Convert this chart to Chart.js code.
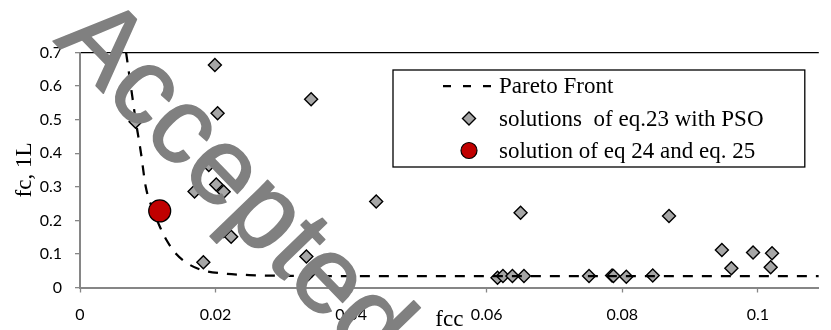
<!DOCTYPE html>
<html>
<head>
<meta charset="utf-8">
<script src="https://cdn.jsdelivr.net/npm/chart.js@4.4.1/dist/chart.umd.min.js"></script>
<style>
  html, body { margin: 0; padding: 0; background: #fff; overflow: hidden; }
  canvas { display: block; }
</style>
</head>
<body>
<canvas id="chart" width="831" height="330"></canvas>
<script>
// Pareto front (fcc, fc,1L)
const paretoX = [0.0068, 0.0075, 0.0082, 0.0090, 0.0097, 0.0108, 0.0118, 0.0128, 0.0142, 0.0160, 0.0180, 0.0210, 0.0250, 0.0300, 0.0400, 0.0600, 0.0800, 0.1090];
const paretoY = [0.700, 0.600, 0.500, 0.400, 0.300, 0.230, 0.180, 0.140, 0.100, 0.070, 0.052, 0.042, 0.037, 0.035, 0.034, 0.034, 0.034, 0.034];

// PSO solutions of eq. 23
const psoX = [0.0082, 0.0190, 0.0199, 0.0203, 0.0169, 0.0201, 0.0212, 0.0212, 0.0223, 0.0182, 0.0334, 0.0337, 0.0341, 0.0437,
              0.0650, 0.0616, 0.0624, 0.0638, 0.0655, 0.0751, 0.0785, 0.0787, 0.0806, 0.0845, 0.0869, 0.0947, 0.0961, 0.0993, 0.1021, 0.1019];
const psoY = [0.494, 0.365, 0.663, 0.519, 0.286, 0.307, 0.285, 0.168, 0.151, 0.075, 0.092, 0.040, 0.561, 0.256,
              0.223, 0.029, 0.034, 0.034, 0.034, 0.034, 0.036, 0.034, 0.032, 0.036, 0.213, 0.112, 0.057, 0.104, 0.102, 0.060];

// solution of eq. 24 and eq. 25
const eqX = [0.01176];
const eqY = [0.228];

const xTicks = [0, 0.02, 0.04, 0.06, 0.08, 0.1];
const yTicks = [0, 0.1, 0.2, 0.3, 0.4, 0.5, 0.6, 0.7];

const seriesNames = ['Pareto Front', 'solutions  of eq.23 with PSO', 'solution of eq 24 and eq. 25'];
const xTitle = 'fcc';
const yTitle = 'fc, 1L';
const stampText = 'Accepted';

const toPoints = (xs, ys) => xs.map((x, i) => ({ x, y: ys[i] }));

const AXIS_GREY = '#868686';
const SERIF = '"Liberation Serif", "Times New Roman", serif';

// legend in a framed box inside the plot area
const boxLegend = {
  id: 'boxLegend',
  afterDatasetsDraw(chart) {
    const { ctx, chartArea } = chart;
    const L = chartArea.left + 313, T = chartArea.top + 17.5;
    const R = chartArea.right - 14, B = T + 97;
    ctx.save();
    ctx.fillStyle = '#fff';
    ctx.fillRect(L, T, R - L, B - T);
    ctx.strokeStyle = '#000';
    ctx.lineWidth = 1.3;
    ctx.strokeRect(L, T, R - L, B - T);

    const symX = L + 76, textX = L + 106;
    const rows = [T + 16, T + 48.5, T + 80.5];
    const ds = chart.data.datasets;

    // dashed line sample
    ctx.strokeStyle = ds[0].borderColor;
    ctx.lineWidth = ds[0].borderWidth;
    ctx.setLineDash([8, 12]);
    ctx.beginPath();
    ctx.moveTo(symX - 26, rows[0]);
    ctx.lineTo(symX + 22, rows[0]);
    ctx.stroke();
    ctx.setLineDash([]);

    // diamond sample
    const r = 6.5;
    ctx.fillStyle = ds[1].backgroundColor;
    ctx.strokeStyle = ds[1].borderColor;
    ctx.lineWidth = ds[1].borderWidth;
    ctx.beginPath();
    ctx.moveTo(symX - r, rows[1]);
    ctx.lineTo(symX, rows[1] - r);
    ctx.lineTo(symX + r, rows[1]);
    ctx.lineTo(symX, rows[1] + r);
    ctx.closePath();
    ctx.fill();
    ctx.stroke();

    // circle sample
    ctx.fillStyle = ds[2].backgroundColor;
    ctx.strokeStyle = ds[2].borderColor;
    ctx.lineWidth = ds[2].borderWidth;
    ctx.beginPath();
    ctx.arc(symX, rows[2], 8, 0, Math.PI * 2);
    ctx.fill();
    ctx.stroke();

    ctx.fillStyle = '#000';
    ctx.font = '23px ' + SERIF;
    ctx.textAlign = 'left';
    ctx.textBaseline = 'middle';
    ds.forEach((d, i) => ctx.fillText(d.label, textX, rows[i] + 1));
    ctx.restore();
  }
};

// diagonal stamp across the chart
const stamp = {
  id: 'stamp',
  afterDraw(chart) {
    const { ctx } = chart;
    ctx.save();
    ctx.translate(53, 41);
    ctx.rotate(46 * Math.PI / 180);
    ctx.font = '109px "Liberation Sans", Arial, sans-serif';
    ctx.fillStyle = '#808080';
    ctx.strokeStyle = '#808080';
    ctx.lineWidth = 1.6;
    ctx.lineJoin = 'round';
    ctx.textAlign = 'left';
    ctx.textBaseline = 'alphabetic';
    ctx.fillText(stampText, 0, 0);
    ctx.strokeText(stampText, 0, 0);
    ctx.restore();
  }
};

new Chart(document.getElementById('chart'), {
  type: 'scatter',
  data: {
    datasets: [
      {
        label: seriesNames[0],
        type: 'line',
        data: toPoints(paretoX, paretoY),
        borderColor: '#000',
        borderWidth: 2.25,
        borderDash: [10, 9],
        pointRadius: 0,
        fill: false,
        cubicInterpolationMode: 'monotone',
        order: 1
      },
      {
        label: seriesNames[1],
        data: toPoints(psoX, psoY),
        pointStyle: 'rectRot',
        pointRadius: 6.5,
        backgroundColor: '#a6a6a6',
        borderColor: '#000',
        borderWidth: 1.4,
        order: 2
      },
      {
        label: seriesNames[2],
        data: toPoints(eqX, eqY),
        pointStyle: 'circle',
        pointRadius: 11,
        backgroundColor: '#c00000',
        borderColor: '#000',
        borderWidth: 1.2,
        order: 0
      }
    ]
  },
  options: {
    responsive: false,
    animation: false,
    layout: { padding: { top: 52.5, right: 0, bottom: 0, left: 0 } },
    plugins: { legend: { display: false }, tooltip: { enabled: false } },
    scales: {
      x: {
        type: 'linear',
        min: 0,
        max: 0.109,
        afterBuildTicks: s => { s.ticks = xTicks.map(v => ({ value: v })); },
        afterFit: s => { s.height = 42.5; },
        grid: { display: true, drawOnChartArea: false, drawTicks: true, tickLength: 5, tickColor: AXIS_GREY, tickWidth: 1.3 },
        border: { color: AXIS_GREY, width: 2 },
        ticks: { padding: 13, color: '#000', font: { family: 'Lato', size: 16 }, callback: v => String(v) },
        title: { display: true, text: xTitle, color: '#000', font: { family: SERIF, size: 23, lineHeight: 1 }, padding: { top: 0, bottom: -1 } }
      },
      y: {
        type: 'linear',
        min: 0,
        max: 0.7,
        afterBuildTicks: s => { s.ticks = yTicks.map(v => ({ value: v })); },
        afterFit: s => { s.width = 80; },
        grid: {
          display: true,
          drawTicks: true,
          tickLength: 5,
          tickColor: AXIS_GREY,
          tickWidth: 1.3,
          color: c => (c.tick && c.tick.value === 0.7 ? '#000' : 'rgba(0,0,0,0)'),
          lineWidth: 1.3
        },
        border: { color: AXIS_GREY, width: 2 },
        ticks: { padding: 13, color: '#000', font: { family: 'Lato', size: 16 }, callback: v => String(v) },
        title: { display: true, text: yTitle, color: '#000', font: { family: SERIF, size: 23, lineHeight: 1 }, padding: { top: 13.5, bottom: 0 } }
      }
    }
  },
  plugins: [boxLegend, stamp]
});
</script>
</body>
</html>
